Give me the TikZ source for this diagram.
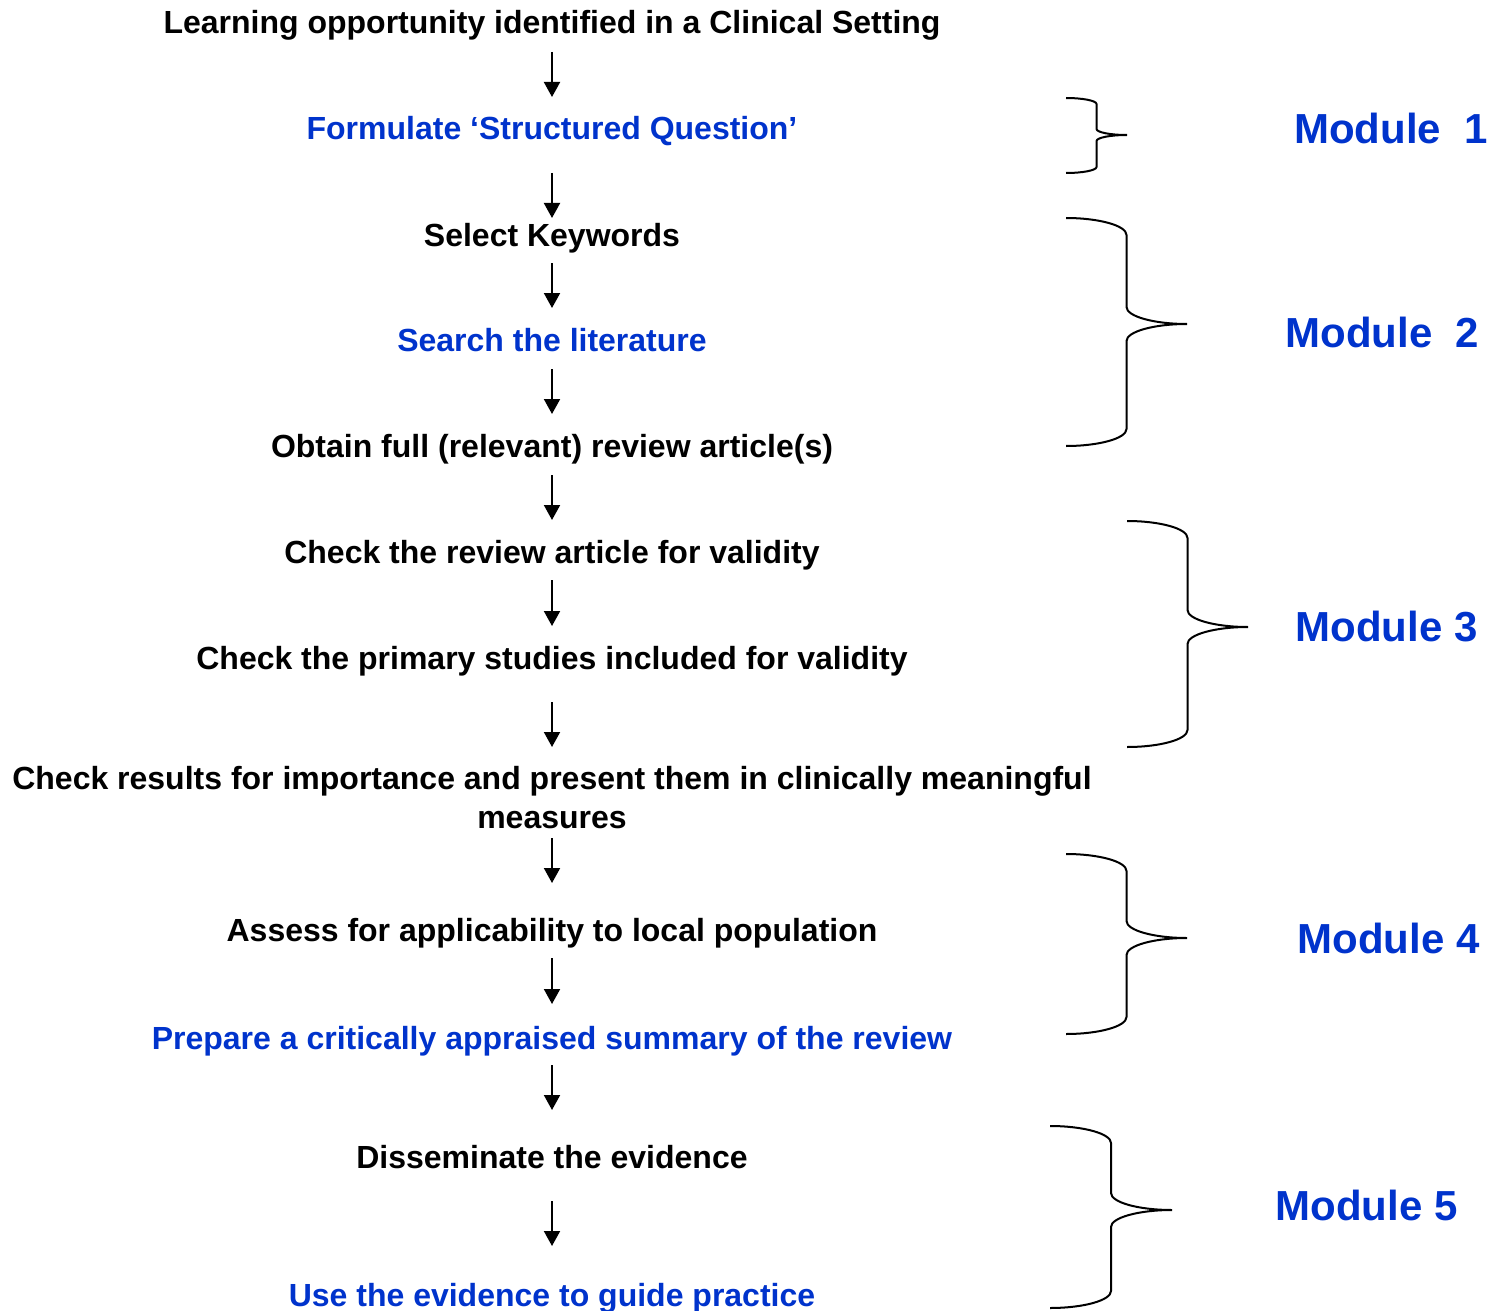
\documentclass[tikz,border=0pt]{standalone}
\usepackage{fontspec}
\setmainfont{Liberation Sans}
\usetikzlibrary{arrows.meta}

\definecolor{modblue}{RGB}{0,51,204}

\tikzset{
  step text/.style={font=\fontsize{16}{19.5}\selectfont\bfseries, align=center,
                    inner sep=0pt, text height=12pt, text depth=3.5pt},
  blue text/.style={step text, text=modblue},
  module/.style={font=\fontsize{21}{25}\selectfont\bfseries, text=modblue, inner sep=0pt},
  flow/.style={line width=1pt, -{Triangle[width=8pt,length=7.5pt]}},
  brace line/.style={line width=1pt}
}

% brace: left x, half width, top, tip, bottom, corner height
\newcommand{\modbrace}[6]{%
  \draw[brace line] (#1,#3) .. controls (#1+0.55*#2,#3) and (#1+#2,#3+0.45*#6) .. (#1+#2,#3+#6)
    -- (#1+#2,#4-#6) .. controls (#1+#2,#4-0.45*#6) and (#1+1.45*#2,#4) .. (#1+2*#2,#4)
    .. controls (#1+1.45*#2,#4) and (#1+#2,#4+0.45*#6) .. (#1+#2,#4+#6)
    -- (#1+#2,#5-#6) .. controls (#1+#2,#5-0.45*#6) and (#1+0.55*#2,#5) .. (#1,#5);}

\begin{document}
\begin{tikzpicture}[x=0.5pt, y=-0.5pt]
  \useasboundingbox (0,0) rectangle (1490,1311);

  % steps
  \node[step text] (learn)   at (552, 25)   {Learning opportunity identified in a Clinical Setting};
  \node[blue text] (formq)   at (552, 131)  {Formulate ‘Structured Question’};
  \node[step text] (keys)    at (552, 238)  {Select Keywords};
  \node[blue text] (search)  at (552, 343)  {Search the literature};
  \node[step text] (obtain)  at (552, 449)  {Obtain full (relevant) review article(s)};
  \node[step text] (review)  at (552, 555)  {Check the review article for validity};
  \node[step text] (primary) at (552, 661)  {Check the primary studies included for validity};
  \node[step text] (results) at (552, 819.5) {Check results for importance and present them in clinically meaningful\\measures};
  \node[step text] (assess)  at (552, 933)  {Assess for applicability to local population};
  \node[blue text] (summary) at (552, 1041) {Prepare a critically appraised summary of the review};
  \node[step text] (dissem)  at (552, 1160) {Disseminate the evidence};
  \node[blue text] (use)     at (552, 1298) {Use the evidence to guide practice};

  % arrows
  \draw[flow, shorten <=13.5pt, shorten >=17pt]    (learn.center)   -- (formq.center);
  \draw[flow, shorten <=21pt,   shorten >=10pt]    (formq.center)   -- (keys.center);
  \draw[flow, shorten <=12.5pt, shorten >=17.5pt]  (keys.center)    -- (search.center);
  \draw[flow, shorten <=13pt,   shorten >=17.5pt]  (search.center)  -- (obtain.center);
  \draw[flow, shorten <=13pt,   shorten >=17.5pt]  (obtain.center)  -- (review.center);
  \draw[flow, shorten <=12.5pt, shorten >=17.5pt]  (review.center)  -- (primary.center);
  \draw[flow, shorten <=20.5pt, shorten >=36.25pt] (primary.center) -- (results.center);
  \draw[flow, shorten <=9.25pt, shorten >=25pt]    (results.center) -- (assess.center);
  \draw[flow, shorten <=12.5pt, shorten >=18.5pt]  (assess.center)  -- (summary.center);
  \draw[flow, shorten <=12pt,   shorten >=25pt]    (summary.center) -- (dissem.center);
  \draw[flow, shorten <=20.5pt, shorten >=26pt]    (dissem.center)  -- (use.center);

  % modules
  \modbrace{1066}{30.5}{98}{135}{173}{6}
  \node[module] (mod1) at (1391, 128)   {Module\ \ 1};

  \modbrace{1066}{60.5}{218}{324}{446}{17}
  \node[module] (mod2) at (1382.5, 332) {Module\ \ 2};

  \modbrace{1127}{60.5}{521}{627}{747}{17}
  \node[module] (mod3) at (1386.5, 627) {Module 3};

  \modbrace{1066}{60.5}{854}{938}{1034}{17}
  \node[module] (mod4) at (1388.5, 938) {Module 4};

  \modbrace{1050}{61}{1126}{1210}{1308}{17}
  \node[module] (mod5) at (1366.5, 1205) {Module 5};
\end{tikzpicture}
\end{document}
